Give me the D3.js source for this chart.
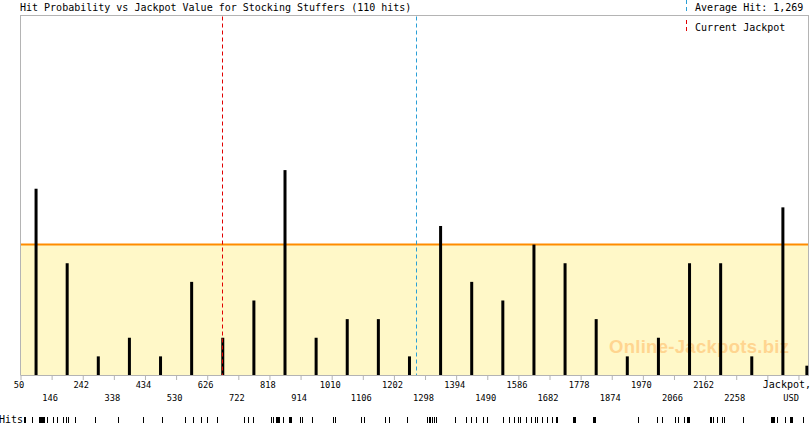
<!DOCTYPE html>
<html>
<head>
<meta charset="utf-8">
<script src="https://cdn.jsdelivr.net/npm/d3@7"></script>
<style>
  body { margin: 0; background: #fff; }
  svg { display: block; }
  text { font-family: "DejaVu Sans Mono", monospace; fill: #000; }
</style>
</head>
<body>
<div id="chart"></div>
<script>
// bins of 96 USD, bar drawn at bin centre, height = hits in bin
const binCenters = [98, 194, 290, 386, 482, 578, 674, 770, 866, 962, 1058, 1154, 1250,
                    1346, 1442, 1538, 1634, 1730, 1826, 1922, 2018, 2114, 2210, 2306, 2402, 2476];
const hitCounts = [10, 6, 1, 2, 1, 5, 2, 4, 11, 2, 3, 3, 1,
                   8, 5, 4, 7, 6, 3, 1, 2, 6, 6, 1, 9, 0.5];

// jackpot value at each past hit (strip at the bottom)
const hits = [62, 65, 84, 106, 109, 112, 115, 118, 121, 133,
              149, 164, 180, 189, 198, 217,
              281, 352, 427, 488,
              556, 581, 582, 606, 624,
              655, 657,
              741, 751, 766, 768,
              822, 828, 837, 840, 843, 846, 859, 877, 880, 883, 911,
              917, 948,
              1013, 1019, 1099,
              1109, 1173, 1186,
              1241,
              1303, 1309, 1312, 1318, 1325, 1327, 1331, 1390,
              1423, 1439, 1454, 1476, 1488,
              1538, 1556, 1572, 1584,
              1590, 1609, 1624, 1636, 1643, 1658, 1673,
              1689, 1701, 1704, 1754, 1757, 1760,
              1815, 1818, 1822,
              1954,
              2013, 2028,
              2068, 2077, 2096, 2105, 2108, 2111,
              2177, 2180, 2186, 2198, 2214, 2220,
              2278,
              2365, 2368, 2371, 2374, 2383, 2408, 2423, 2426, 2430,
              2464];

const tickValues = [50, 146, 242, 338, 434, 530, 626, 722, 818, 914, 1010, 1106, 1202,
                    1298, 1394, 1490, 1586, 1682, 1778, 1874, 1970, 2066, 2162, 2258, 2354, 2450];
const tickLabels = ["50", "146", "242", "338", "434", "530", "626", "722", "818", "914", "1010", "1106", "1202",
                    "1298", "1394", "1490", "1586", "1682", "1778", "1874", "1970", "2066", "2162", "2258", "Jackpot,", "USD"];

const averageHit = 1269;
const currentJackpot = 672;
const avgLevel = 7;
const totalHits = 110;
const gameName = "Stocking Stuffers";

var width = 810, height = 425;
// note: "top" is taken by window.top, so plot edges get their own names
var plotLeft = 20.5, plotRight = 808.5, plotTop = 15.5, plotBottom = 375;

var svg = d3.select("#chart")
    .append("svg")
    .attr("width", width)
    .attr("height", height);

var x = d3.scaleLinear()
    .domain([50, 2481])
    .range([plotLeft, plotRight]);

var y = d3.scaleLinear()
    .domain([0, 19.3])
    .range([plotBottom, plotTop]);

svg.append("clipPath")
    .attr("id", "plotclip")
    .append("rect")
    .attr("x", plotLeft)
    .attr("y", plotTop)
    .attr("width", plotRight - plotLeft)
    .attr("height", plotBottom - plotTop);

// plot frame
svg.append("rect")
    .attr("x", plotLeft)
    .attr("y", plotTop)
    .attr("width", plotRight - plotLeft)
    .attr("height", plotBottom - plotTop)
    .attr("fill", "#fff")
    .attr("stroke", "#b4b4b4");

// area under the average level
svg.append("rect")
    .attr("x", plotLeft + 0.5)
    .attr("y", y(avgLevel))
    .attr("width", plotRight - plotLeft - 1)
    .attr("height", plotBottom - y(avgLevel))
    .attr("fill", "#fff8c8");

svg.append("line")
    .attr("x1", plotLeft + 0.5)
    .attr("x2", plotRight - 0.5)
    .attr("y1", y(avgLevel))
    .attr("y2", y(avgLevel))
    .attr("stroke", "#ff8c00")
    .attr("stroke-width", 2);

// watermark
svg.append("text")
    .attr("x", 609)
    .attr("y", 353)
    .attr("textLength", 180)
    .style("font-family", "'Liberation Sans', Arial, sans-serif")
    .style("font-weight", "bold")
    .style("font-size", "18.5px")
    .style("fill", "#ffd590")
    .text("Online-Jackpots.biz");

// bars
svg.append("g")
    .attr("clip-path", "url(#plotclip)")
    .selectAll("rect")
    .data(binCenters)
    .enter()
    .append("rect")
    .attr("x", function(d) { return x(d) - 1.5; })
    .attr("y", function(d, i) { return y(hitCounts[i]); })
    .attr("width", 3)
    .attr("height", function(d, i) { return plotBottom - y(hitCounts[i]); })
    .attr("fill", "#000");

// average hit and current jackpot markers
svg.append("line")
    .attr("x1", Math.round(x(currentJackpot)) + 0.5)
    .attr("x2", Math.round(x(currentJackpot)) + 0.5)
    .attr("y1", plotTop + 1)
    .attr("y2", plotBottom)
    .attr("stroke", "#e00000")
    .attr("stroke-dasharray", "4,3");

svg.append("line")
    .attr("x1", Math.round(x(averageHit)) + 0.5)
    .attr("x2", Math.round(x(averageHit)) + 0.5)
    .attr("y1", plotTop + 1)
    .attr("y2", plotBottom)
    .attr("stroke", "#2a9fd6")
    .attr("stroke-dasharray", "4,3");

// x axis
var axis = svg.append("g")
    .attr("transform", "translate(0," + plotBottom + ")")
    .call(d3.axisBottom(x)
        .tickValues(tickValues)
        .tickSize(5)
        .tickSizeOuter(0)
        .tickFormat(function(d, i) { return tickLabels[i]; }));

axis.select(".domain").attr("stroke", "#b4b4b4");
axis.selectAll(".tick line").attr("stroke", "#b4b4b4");
axis.selectAll(".tick text")
    .attr("y", function(d, i) { return i % 2 === 0 ? 13 : 26; })
    .attr("dy", 0)
    .attr("dx", -2)
    .style("font-family", "'DejaVu Sans Mono', monospace")
    .style("font-size", "8.7px")
    .attr("fill", "#000")
    .each(function(d, i) {
        if (tickLabels[i] === "Jackpot,") {
            d3.select(this).attr("text-anchor", "start").attr("dx", -5).style("font-size", "10px");
        }
        if (tickLabels[i] === "USD") {
            d3.select(this).attr("text-anchor", "end").attr("dx", 0);
        }
    });

// title and legend
svg.append("text")
    .attr("x", 20)
    .attr("y", 11)
    .style("font-size", "10px")
    .text("Hit Probability vs Jackpot Value for " + gameName + " (" + totalHits + " hits)");

svg.append("line")
    .attr("x1", 686.5).attr("x2", 686.5)
    .attr("y1", 0).attr("y2", 12)
    .attr("stroke", "#2a9fd6")
    .attr("stroke-dasharray", "4,3");

svg.append("text")
    .attr("x", 695)
    .attr("y", 11)
    .style("font-size", "10px")
    .text("Average Hit: " + d3.format(",")(averageHit));

svg.append("line")
    .attr("x1", 686.5).attr("x2", 686.5)
    .attr("y1", 20).attr("y2", 33)
    .attr("stroke", "#e00000")
    .attr("stroke-dasharray", "4,3");

svg.append("text")
    .attr("x", 695)
    .attr("y", 31)
    .style("font-size", "10px")
    .text("Current Jackpot");

// hits strip
svg.append("text")
    .attr("x", -1)
    .attr("y", 423)
    .style("font-size", "10px")
    .text("Hits");

svg.append("g")
    .selectAll("line")
    .data(hits)
    .enter()
    .append("line")
    .attr("x1", function(d) { return Math.round(x(d)) + 0.5; })
    .attr("x2", function(d) { return Math.round(x(d)) + 0.5; })
    .attr("y1", 417)
    .attr("y2", 423)
    .attr("stroke", "#000");
</script>
</body>
</html>
